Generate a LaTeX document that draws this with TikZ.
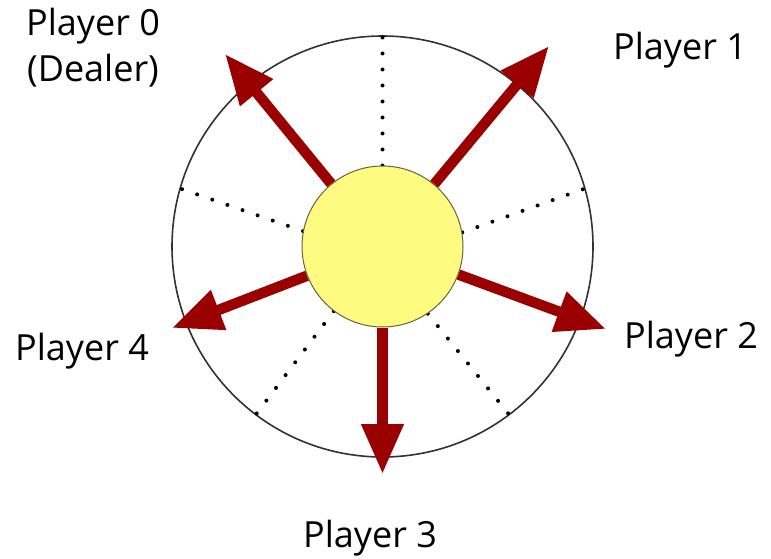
\documentclass[tikz,border=0pt]{standalone}
\usepackage{fontspec}
\setmainfont{Open Sans}
\usetikzlibrary{arrows.meta}
\definecolor{arrowred}{RGB}{155,0,0}
\definecolor{sunfill}{RGB}{255,250,128}
\definecolor{sunline}{RGB}{100,100,60}
\definecolor{tableline}{RGB}{50,50,50}
\tikzset{
  tablecircle/.style={circle, draw=tableline, line width=1.6pt, minimum size=421pt, inner sep=0pt},
  suncircle/.style={circle, draw=sunline, fill=sunfill, line width=1pt, minimum size=161pt, inner sep=0pt},
  dotline/.style={line width=4pt, line cap=round, dash pattern=on 0pt off 16pt, black},
  playerarrow/.style={line width=10.5pt, arrowred, -{Triangle[length=50pt,width=40pt]}},
  lbl/.style={font=\fontsize{36}{48}\selectfont, inner sep=0pt, anchor=base, align=center}
}
\begin{document}
\begin{tikzpicture}[x=1pt,y=-1pt]
\useasboundingbox (0,0) rectangle (771,559);
\node[tablecircle] (table) at (382.5,246.5) {};
\node[suncircle, draw=none, fill=none] (sunpos) at (382.5,246.5) {};
% dotted separators
\draw[dotline] (sunpos.90) -- (table.90);
\draw[dotline] (sunpos.169) -- (table.164);
\draw[dotline] (sunpos.10) -- (table.16);
\draw[dotline] (sunpos.-56) -- (table.-53);
\draw[dotline] (sunpos.233) -- (table.233);
% arrow tips
\coordinate (t0) at (225,54);
\coordinate (t1) at (549,46);
\coordinate (t2) at (606,329);
\coordinate (t3) at (382.5,474);
\coordinate (t4) at (172,328);
\draw[playerarrow] (sunpos) -- (t0);
\draw[playerarrow] (sunpos) -- (t1);
\draw[playerarrow] (sunpos) -- (t2);
\draw[playerarrow] (sunpos) -- (t3);
\draw[playerarrow] (sunpos) -- (t4);
\node[suncircle] (sun) at (382.5,246.5) {};
% labels
\node[lbl] (l0) at (93,36) {Player 0};
\node[lbl] (l0b) at (93,82) {(Dealer)};
\node[lbl] (l1) at (680,60) {Player 1};
\node[lbl] (l2) at (691,348) {Player 2};
\node[lbl] (l3) at (370,547) {Player 3};
\node[lbl] (l4) at (82,360) {Player 4};
\end{tikzpicture}
\end{document}
